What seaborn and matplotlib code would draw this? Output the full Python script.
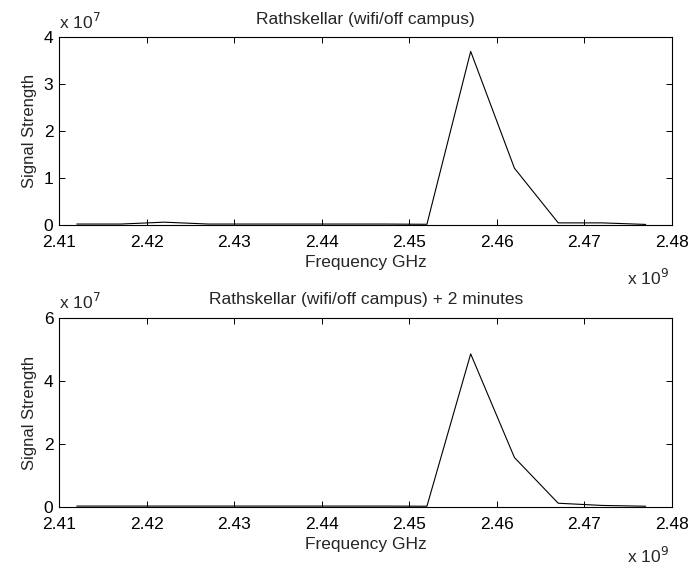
import matplotlib

matplotlib.use("Agg")
import matplotlib.pyplot as plt
import pandas as pd
import seaborn as sns
from matplotlib.ticker import FuncFormatter

# wifi channel centre frequencies (Hz)
freqs = [
    2.412e9, 2.417e9, 2.422e9, 2.427e9, 2.432e9, 2.437e9, 2.442e9,
    2.447e9, 2.452e9, 2.457e9, 2.462e9, 2.467e9, 2.472e9, 2.477e9,
]

# signal strength, first capture
signal_first = [
    0.2e6, 0.2e6, 0.6e6, 0.2e6, 0.2e6, 0.2e6, 0.2e6,
    0.2e6, 0.15e6, 37.0e6, 12.1e6, 0.45e6, 0.45e6, 0.12e6,
]

# signal strength, two minutes later
signal_second = [
    0.3e6, 0.3e6, 0.3e6, 0.3e6, 0.3e6, 0.3e6, 0.3e6,
    0.3e6, 0.25e6, 48.6e6, 15.7e6, 1.2e6, 0.5e6, 0.25e6,
]

titles = [
    "Rathskellar (wifi/off campus)",
    "Rathskellar (wifi/off campus) + 2 minutes",
]
yticks_list = [[0, 1e7, 2e7, 3e7, 4e7], [0, 2e7, 4e7, 6e7]]
xticks = [2.41e9, 2.42e9, 2.43e9, 2.44e9, 2.45e9, 2.46e9, 2.47e9, 2.48e9]

sns.set_style("ticks")
plt.rcParams["font.family"] = ["Liberation Sans", "DejaVu Sans"]

fig = plt.figure(figsize=(6.91, 5.67), dpi=100)
positions = [
    [0.0858, 0.6032, 0.8867, 0.3310],
    [0.0858, 0.1058, 0.8867, 0.3334],
]
# baseline of the "x 10^9" label below each axes (axes fraction)
xexp_y = [-0.319, -0.298]

for i, values in enumerate([signal_first, signal_second]):
    ax = fig.add_axes(positions[i])
    df = pd.DataFrame({"freq": freqs, "signal": values})
    sns.lineplot(data=df, x="freq", y="signal", color="black", linewidth=0.8, ax=ax)

    yticks = yticks_list[i]
    ax.set_xlim(2.41e9, 2.48e9)
    ax.set_ylim(yticks[0], yticks[-1])
    ax.set_xticks(xticks)
    ax.set_yticks(yticks)
    ax.xaxis.set_major_formatter(FuncFormatter(lambda v, p: f"{v / 1e9:.2f}"))
    ax.yaxis.set_major_formatter(FuncFormatter(lambda v, p: f"{v / 1e7:g}"))
    ax.tick_params(direction="in", length=4, width=0.7, top=True, right=True,
                   labelsize=12.5, colors="black")
    ax.tick_params(axis="x", pad=7.5)
    ax.tick_params(axis="y", pad=4.3)
    for spine in ax.spines.values():
        spine.set_visible(True)
        spine.set_linewidth(0.8)
        spine.set_color("black")

    ax.set_title(titles[i], fontsize=12.5, pad=9.9)
    ax.set_xlabel("Frequency GHz", fontsize=12.5, labelpad=3)
    ax.set_ylabel("Signal Strength", fontsize=12, labelpad=5)

    ax.text(0.0, 1.046, r"x 10$^7$", transform=ax.transAxes, fontsize=12.5,
            ha="left", va="baseline")
    ax.text(0.995, xexp_y[i], r"x 10$^9$", transform=ax.transAxes, fontsize=12.5,
            ha="right", va="baseline")

fig.savefig("out.png", dpi=100)
